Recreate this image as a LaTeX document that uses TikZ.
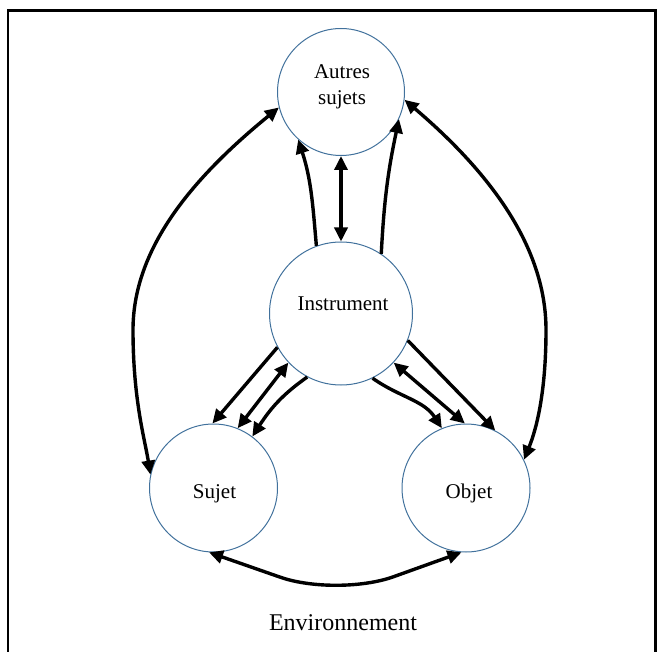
\documentclass[tikz,border=0pt]{standalone}
\usepackage{fontspec}
\setmainfont{Liberation Serif}
\usetikzlibrary{arrows.meta}
\definecolor{circblue}{RGB}{65,113,156}
\tikzset{
  circ/.style={circle, draw=circblue, line width=1pt, inner sep=0pt},
  lbl/.style={inner sep=0pt, anchor=base, font=\fontsize{21}{25}\selectfont},
  arr/.style={line width=3.4pt, -{Triangle[length=14pt,width=13pt]}},
  dbl/.style={line width=3.4pt, {Triangle[length=14pt,width=13pt]}-{Triangle[length=14pt,width=13pt]}},
  frame/.style={line width=2.5pt}
}
\begin{document}
\begin{tikzpicture}[x=1pt,y=1pt]
\useasboundingbox (0,0) rectangle (664,-652);
% frame
\draw[frame] (8,-653) -- (8,-10.5) -- (655.5,-10.5) -- (655.5,-653);
% circles
\node[circ, minimum size=127pt] (autres) at (341,-92) {};
\node[circ, minimum size=143pt] (instrument) at (341,-313.5) {};
\node[circ, minimum size=128pt] (sujet) at (213.5,-488) {};
\node[circ, minimum size=128pt] (objet) at (466,-488) {};
% labels
\node[lbl] (autresT) at (342,-79) {Autres};
\node[lbl] (sujetsT) at (342,-104.5) {sujets};
\node[lbl] (instrumentT) at (343,-311) {Instrument};
\node[lbl] (sujetT) at (214.5,-498) {Sujet};
\node[lbl] (objetT) at (469,-498) {Objet};
\node[lbl, font=\fontsize{24}{28}\selectfont] (envT) at (343,-630) {Environnement};
% outer curves
\draw[dbl] (autres.194) .. controls (190,-180) and (133,-250) .. (133,-330)
  .. controls (133,-400) and (145,-440) .. (sujet.168);
\draw[dbl] (autres.353) .. controls (494,-176) and (546,-250) .. (546,-330)
  .. controls (546,-400) and (534,-435) .. (objet.26);
% instrument - autres
\draw[dbl] (autres.south) -- (instrument.north);
\draw[arr] (instrument.110) to[out=95,in=-72] (autres.228);
\draw[arr] (instrument.56) to[out=87,in=-102] (autres.335);
% instrument - sujet
\draw[arr] (instrument.208) -- (sujet.91);
\draw[dbl] (instrument.223) -- (sujet.68);
\draw[arr] (instrument.242) to[out=215,in=57] (sujet.53);
% instrument - objet
\draw[arr] (instrument.296) to[out=325,in=123] (objet.112);
\draw[dbl] (instrument.317) -- (objet.91);
\draw[arr] (instrument.338) -- (objet.63);
% sujet - objet
\draw[dbl, rounded corners=60pt] (sujet.266) -- (337,-597) -- (objet.266);
\end{tikzpicture}
\end{document}
